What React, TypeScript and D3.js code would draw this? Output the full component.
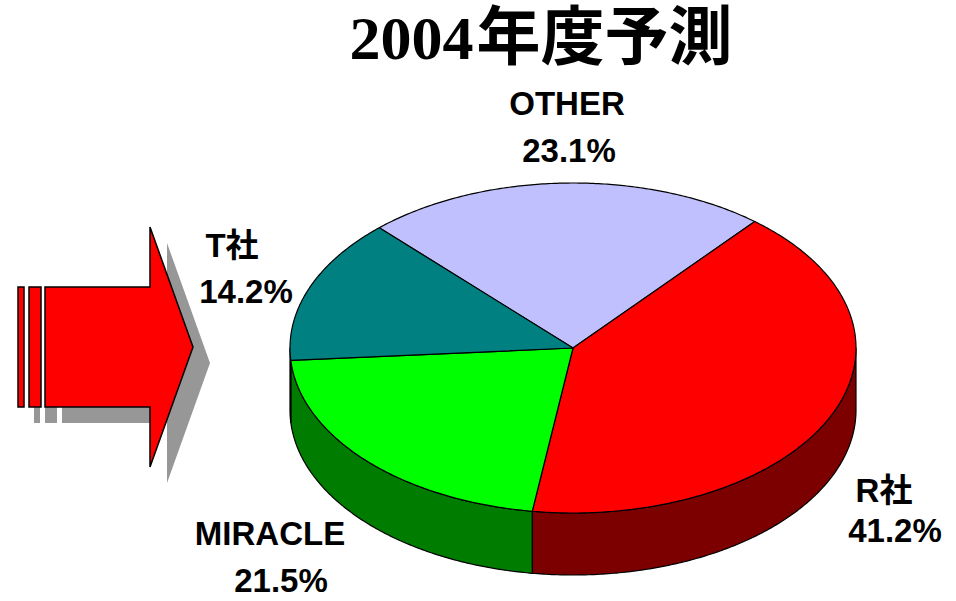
import React, { useEffect, useRef } from "react";
import * as d3 from "d3";

// ---- data ----
const categories = ["OTHER", "R社", "MIRACLE", "T社"];
const shares = [23.1, 41.2, 21.5, 14.2];
const valueLabels = ["23.1%", "41.2%", "21.5%", "14.2%"];
const titleDigits = "2004";
const titleKanji = "年度予測";

// ---- style / layout ----
const W = 956;
const H = 601;
const topColors = ["#C0C0FF", "#FF0000", "#00FF00", "#008080"];
const sideColors = ["#606080", "#7C0000", "#007C00", "#004040"];
const startDeg = -43.2;
const cx = 573, cy = 348, rx = 283, ry = 165, depth = 62;
// label line centers [name x, name baseline, value x, value baseline]
const labelLayout = [
  [567, 115, 569, 162],
  [884, 502, 895, 542],
  [270, 545, 281, 592],
  [232, 257, 246, 303],
];

export default function App() {
  const ref = useRef<SVGSVGElement | null>(null);

  useEffect(() => {
    const svg = d3.select(ref.current);
    svg.selectAll("*").remove();

    // ---- arrow with shadow ----
    const arrowG = svg.append("g");
    const arrowShape = (ox: number, oy: number) => {
      const p = d3.path();
      p.moveTo(45 + ox, 287 + oy);
      p.lineTo(150 + ox, 287 + oy);
      p.lineTo(150 + ox, 227 + oy);
      p.lineTo(193 + ox, 347 + oy);
      p.lineTo(150 + ox, 467 + oy);
      p.lineTo(150 + ox, 407 + oy);
      p.lineTo(45 + ox, 407 + oy);
      p.closePath();
      return p.toString();
    };
    const bars = [
      [18, 24],
      [29, 41],
    ];
    // shadow
    arrowG.append("path").attr("d", arrowShape(17, 16)).attr("fill", "#979797");
    bars.forEach(([a, b]) =>
      arrowG
        .append("rect")
        .attr("x", a + 16)
        .attr("y", 287 + 16)
        .attr("width", b - a)
        .attr("height", 120)
        .attr("fill", "#979797")
    );
    // main
    bars.forEach(([a, b]) =>
      arrowG
        .append("rect")
        .attr("x", a)
        .attr("y", 287)
        .attr("width", b - a)
        .attr("height", 120)
        .attr("fill", "#FF0000")
        .attr("stroke", "#000")
        .attr("stroke-width", 1.5)
    );
    arrowG
      .append("path")
      .attr("d", arrowShape(0, 0))
      .attr("fill", "#FF0000")
      .attr("stroke", "#000")
      .attr("stroke-width", 1.5)
      .attr("stroke-linejoin", "miter");

    // ---- 3D pie ----
    const pie = d3
      .pie<number>()
      .sort(null)
      .value((d) => d)
      .startAngle((startDeg * Math.PI) / 180)
      .endAngle((startDeg * Math.PI) / 180 + 2 * Math.PI);
    const arcs = pie(shares);

    const pt = (a: number, dy: number): [number, number] => [
      cx + rx * Math.sin(a),
      cy - ry * Math.cos(a) + dy,
    ];
    const sample = (a0: number, a1: number, dy: number) => {
      const n = Math.max(2, Math.ceil(Math.abs(a1 - a0) / 0.01));
      return d3.range(n + 1).map((i) => pt(a0 + ((a1 - a0) * i) / n, dy));
    };
    const line = d3.line();

    const pieG = svg.append("g");
    // side walls (front half: angles between PI/2 and 3PI/2, mod 2PI)
    arcs.forEach((a, i) => {
      for (let k = -1; k <= 1; k++) {
        const lo = Math.PI / 2 + k * 2 * Math.PI;
        const hi = (3 * Math.PI) / 2 + k * 2 * Math.PI;
        const s = Math.max(a.startAngle, lo);
        const e = Math.min(a.endAngle, hi);
        if (e > s) {
          const topPts = sample(s, e, 0);
          const botPts = sample(e, s, depth);
          pieG
            .append("path")
            .attr("d", line([...topPts, ...botPts]) + "Z")
            .attr("fill", sideColors[i])
            .attr("stroke", "#000")
            .attr("stroke-width", 1.2)
            .attr("stroke-linejoin", "round");
        }
      }
    });
    // top faces
    arcs.forEach((a, i) => {
      const pts = [[cx, cy] as [number, number], ...sample(a.startAngle, a.endAngle, 0)];
      pieG
        .append("path")
        .attr("d", line(pts) + "Z")
        .attr("fill", topColors[i])
        .attr("stroke", "#000")
        .attr("stroke-width", 1.2)
        .attr("stroke-linejoin", "round");
    });

    // ---- labels ----
    const lab = svg
      .append("g")
      .attr("font-family", "'Liberation Sans', Arial, 'Noto Sans CJK JP', sans-serif")
      .attr("font-weight", "bold")
      .attr("font-size", 33)
      .attr("fill", "#000")
      .attr("text-anchor", "middle");
    categories.forEach((c, i) => {
      const [nx, ny, vx, vy] = labelLayout[i];
      lab.append("text").attr("x", nx).attr("y", ny).text(c);
      lab.append("text").attr("x", vx).attr("y", vy).text(valueLabels[i]);
    });

    // ---- title ----
    const t = svg
      .append("text")
      .attr("x", 541)
      .attr("y", 59)
      .attr("text-anchor", "middle")
      .attr("font-weight", "bold")
      .attr("fill", "#000");
    t.append("tspan")
      .attr("font-family", "'Liberation Serif', 'Times New Roman', serif")
      .attr("font-size", 62)
      .text(titleDigits);
    t.append("tspan")
      .attr("font-family", "'Noto Sans CJK JP', sans-serif")
      .attr("font-size", 64)
      .attr("dx", 3)
      .text(titleKanji);
  }, []);

  return (
    <svg
      ref={ref}
      width={W}
      height={H}
      style={{ position: "absolute", left: 0, top: 0, background: "#fff" }}
    />
  );
}
